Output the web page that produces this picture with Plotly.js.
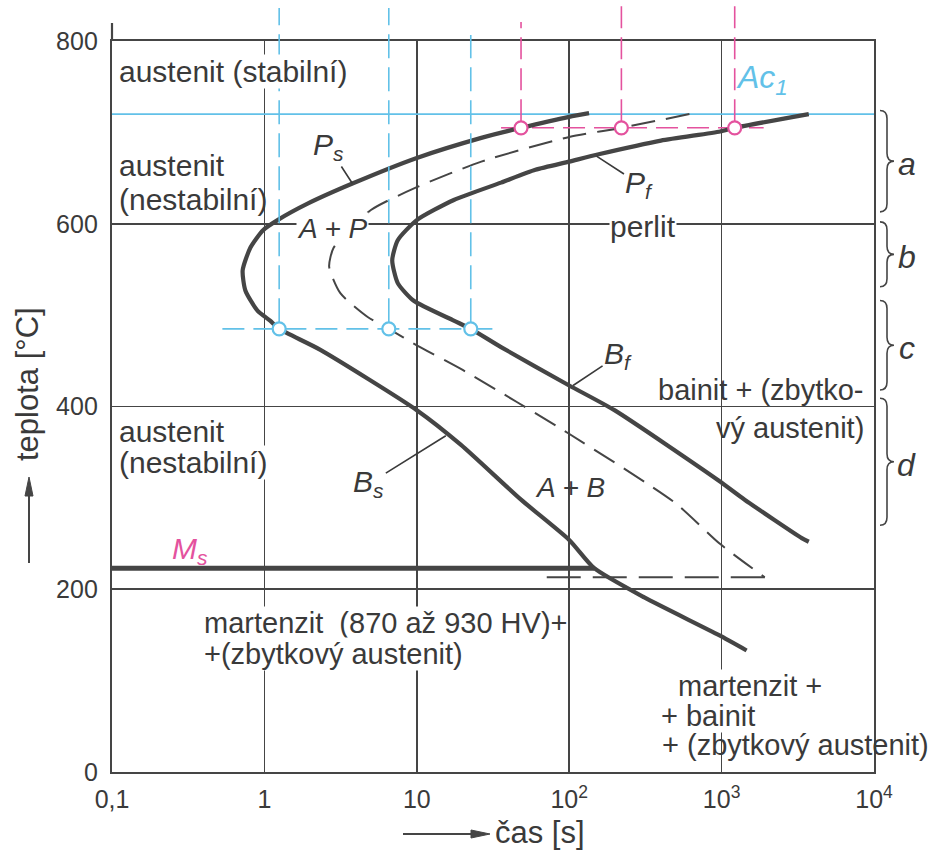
<!DOCTYPE html>
<html>
<head>
<meta charset="utf-8">
<script src="https://cdn.plot.ly/plotly-3.0.1.min.js"></script>
<style>html,body{margin:0;padding:0;background:#fff}</style>
</head>
<body>
<div id="chart" style="width:938px;height:850px"></div>
<script>
// Isothermal transformation (IRA / TTT) diagram: time [s] on a log axis, temperature [°C]

// axis ticks
const tickTimes = [0.1, 1, 10, 100, 1000, 10000];
const tickTimeText = ['0,1', '1', '10', '10<sup>2</sup>', '10<sup>3</sup>', '10<sup>4</sup>'];
const tickTemps = [0, 200, 400, 600, 800];

// Ps (pearlite start) running through the nose into Bs (bainite start)
const startTime = [135, 100, 48.3, 26.5, 10, 3.78, 1.92, 1.22, 0.98, 0.81, 0.72, 0.75, 0.9, 1.09, 1.25, 2.33, 10, 19.5, 48.3, 100, 146, 311, 955, 1459];
const startTemp = [721, 717, 705, 694, 672, 644, 622, 604, 593, 574, 549, 527, 505, 494, 485, 462, 396, 358, 298, 254, 223, 191, 150, 133];

// 50 % transformed (dashed curve), then the horizontal run back along the bottom
const halfTime = [615, 220, 100, 26.5, 10, 5.0, 2.85, 2.66, 3.15, 4.76, 6.55, 10, 20, 98, 491, 970, 1919];
const halfTemp = [720, 705, 695, 668, 640, 615, 574, 553, 524, 498, 485, 467, 440, 371, 295, 250, 213];
const halfBaseTime = [1919, 67.5];
const halfBaseTemp = [213, 213];

// Pf (pearlite finish) running through the nose into Bf (bainite finish)
const finishTime = [3733, 1219, 980, 400, 156, 100, 60, 35.7, 17.5, 10, 7.5, 6.9, 7.5, 9.5, 17.5, 22.6, 35.7, 100, 198, 955, 1416, 3357, 3733];
const finishTemp = [720, 705, 701, 691, 676, 668, 659, 645, 626, 604, 582, 560, 535, 516, 494, 485, 465, 423, 396, 319, 298, 256, 252];

// martensite start
const msTime = [0.1, 146];
const msTemp = [223, 223];

// Ac1 temperature
const ac1Time = [0.1, 10000];
const ac1Temp = [720, 720];

// read-off guides in the pearlite region (magenta) and bainite region (cyan)
const pearliteGuideTemp = 705;
const pearliteGuideTimes = [48.3, 220, 1219];
const pearliteGuideSpan = [35.7, 1888];
const bainiteGuideTemp = 485;
const bainiteGuideTimes = [1.25, 6.55, 22.6];
const bainiteGuideSpan = [0.53, 34.6];

// temperature bands marked by braces on the right
const braceLabels = ['a', 'b', 'c', 'd'];
const braceTop = [724, 602, 516, 409];
const braceBottom = [613, 531, 418, 270];

const INK = '#454545';
const TXT = '#3a3a3a';
const CYAN = '#62c1e8';
const MAGENTA = '#e4529e';
const FONT = 'Liberation Sans, Arial, sans-serif';

// plot box in page pixels, used to place free text
const PL = 112, PR = 874, PT = 41, PB = 772;
const px = x => (x - PL) / (PR - PL);
const py = y => (PB - y) / (PB - PT);

const traces = [
  {x: ac1Time, y: ac1Temp, mode: 'lines', line: {color: CYAN, width: 1.6}, hoverinfo: 'skip'},
  {x: bainiteGuideSpan, y: [bainiteGuideTemp, bainiteGuideTemp], mode: 'lines',
   line: {color: CYAN, width: 1.6, dash: '22px,9px'}, hoverinfo: 'skip'},
  {x: pearliteGuideSpan, y: [pearliteGuideTemp, pearliteGuideTemp], mode: 'lines',
   line: {color: MAGENTA, width: 1.6, dash: '22px,9px'}, hoverinfo: 'skip'},
  {x: msTime, y: msTemp, mode: 'lines', line: {color: INK, width: 5}},
  {x: halfTime, y: halfTemp, mode: 'lines', line: {color: INK, width: 2, dash: '24px,11px', shape: 'spline', smoothing: 0.6}},
  {x: halfBaseTime, y: halfBaseTemp, mode: 'lines', line: {color: INK, width: 2, dash: '34px,12px'}},
  {x: startTime, y: startTemp, mode: 'lines', line: {color: INK, width: 4.2, shape: 'spline', smoothing: 0.6}},
  {x: finishTime, y: finishTemp, mode: 'lines', line: {color: INK, width: 4.2, shape: 'spline', smoothing: 0.6}},
  {x: bainiteGuideTimes, y: bainiteGuideTimes.map(() => bainiteGuideTemp), mode: 'markers',
   marker: {size: 13, color: '#ffffff', line: {color: CYAN, width: 2.2}}},
  {x: pearliteGuideTimes, y: pearliteGuideTimes.map(() => pearliteGuideTemp), mode: 'markers',
   marker: {size: 13, color: '#ffffff', line: {color: MAGENTA, width: 2.2}}}
];

const shapes = [];
// left frame edge runs a little above 800 °C
shapes.push({type: 'line', xref: 'paper', yref: 'paper', x0: 0, x1: 0, y0: 1, y1: py(23),
  line: {color: INK, width: 2.2}});
// vertical guides from the marked points up past the top edge
const cyanTops = [py(8), py(8), py(35)];
bainiteGuideTimes.forEach((t, i) => shapes.push({type: 'line', xref: 'x', yref: 'paper',
  x0: t, x1: t, y0: bainiteGuideTemp / 800 + 0.009, y1: cyanTops[i],
  line: {color: CYAN, width: 1.6, dash: '24px,9px'}}));
const magentaTops = [py(22), py(0), py(0)];
pearliteGuideTimes.forEach((t, i) => shapes.push({type: 'line', xref: 'x', yref: 'paper',
  x0: t, x1: t, y0: pearliteGuideTemp / 800 + 0.009, y1: magentaTops[i],
  line: {color: MAGENTA, width: 1.6, dash: '22px,9px'}}));
// curly braces
braceLabels.forEach((lab, i) => {
  const x0 = px(880), x1 = px(887), x2 = px(894);
  const yt = braceTop[i] / 800, yb = braceBottom[i] / 800, ym = (yt + yb) / 2;
  const d = 8 / (PB - PT);
  shapes.push({type: 'path', xref: 'paper', yref: 'paper',
    path: `M${x0},${yt} Q${x1},${yt} ${x1},${yt - d} L${x1},${ym + d} Q${x1},${ym} ${x2},${ym} ` +
          `Q${x1},${ym} ${x1},${ym - d} L${x1},${yb + d} Q${x1},${yb} ${x0},${yb}`,
    line: {color: INK, width: 1.6}});
});
// arrows in front of the axis titles
shapes.push({type: 'line', xref: 'paper', yref: 'paper', x0: px(29), x1: px(29), y0: py(563), y1: py(490),
  line: {color: INK, width: 2}});
shapes.push({type: 'path', xref: 'paper', yref: 'paper', fillcolor: INK, line: {color: INK, width: 1},
  path: `M${px(29)},${py(477)} L${px(25)},${py(496)} L${px(33)},${py(496)} Z`});
shapes.push({type: 'line', xref: 'paper', yref: 'paper', x0: px(403), x1: px(476), y0: py(834), y1: py(834),
  line: {color: INK, width: 2}});
shapes.push({type: 'path', xref: 'paper', yref: 'paper', fillcolor: INK, line: {color: INK, width: 1},
  path: `M${px(490)},${py(834)} L${px(471)},${py(830)} L${px(471)},${py(838)} Z`});

function label(text, x, y, o = {}) {
  const a = {text, xref: 'paper', yref: 'paper', x: px(x), y: py(y),
    xanchor: o.xa || 'center', yanchor: 'middle', showarrow: false, align: 'left',
    font: {family: FONT, size: o.size || 29, color: o.color || TXT, style: o.italic ? 'italic' : 'normal'}};
  if (o.bg) { a.bgcolor = '#ffffff'; a.borderpad = 0; }
  if (o.angle) a.textangle = o.angle;
  return a;
}
function leader(text, t, T, ax, ay) {
  return {text, xref: 'x', yref: 'y', x: Math.log10(t), y: T, ax, ay, showarrow: true,
    arrowhead: 0, arrowwidth: 1.6, arrowcolor: TXT, standoff: 0,
    font: {family: FONT, size: 30, color: TXT, style: 'italic'}};
}

const annotations = [
  label('austenit (stabilní)', 118, 71, {xa: 'left', bg: true, size: 30}),
  label('austenit', 117, 165, {xa: 'left', size: 30}),
  label('(nestabilní)', 117, 200, {xa: 'left', size: 30}),
  label('austenit', 118, 431, {xa: 'left', bg: true, size: 30}),
  label('(nestabilní)', 118, 462, {xa: 'left', bg: true, size: 30}),
  label('A + P', 332, 228, {italic: true, bg: true, size: 28}),
  label('perlit', 643, 226, {bg: true, size: 30}),
  label('Ac<sub>1</sub>', 762, 80, {italic: true, color: CYAN, size: 32}),
  label('M<sub>s</sub>', 190, 550, {italic: true, color: MAGENTA, size: 30}),
  label('A + B', 570, 488, {italic: true, size: 28}),
  label('bainit + (zbytko-', 866, 390, {xa: 'right'}),
  label('vý austenit)', 866, 428, {xa: 'right'}),
  label('martenzit  (870 až 930 HV)+', 203, 623, {xa: 'left', bg: true}),
  label('+(zbytkový austenit)', 203, 654, {xa: 'left', bg: true}),
  label('martenzit +', 677, 686, {xa: 'left', bg: true}),
  label('+ bainit', 660, 716, {xa: 'left', bg: true}),
  label('+ (zbytkový austenit)', 660, 745, {xa: 'left'}),
  leader('P<sub>s</sub>', 3.78, 644, -24, -37),
  leader('P<sub>f</sub>', 151, 674, 43, 28),
  leader('B<sub>s</sub>', 15.5, 368, -77, 48),
  leader('B<sub>f</sub>', 106, 423, 45, -30),
  // axis titles (their arrows are shapes)
  label('teplota [°C]', 28, 384, {angle: -90, size: 31}),
  label('čas [s]', 493, 832, {xa: 'left', size: 31})
];
braceLabels.forEach((lab, i) => {
  const ymid = PB - ((braceTop[i] + braceBottom[i]) / 2) / 800 * (PB - PT);
  annotations.push(label(lab, 907, ymid + 3, {italic: true, size: 32}));
});

const axisCommon = {
  showgrid: true, gridcolor: INK, gridwidth: 1.6,
  showline: true, mirror: true, linecolor: INK, linewidth: 2.2,
  zeroline: false, ticks: '', fixedrange: true,
  tickfont: {family: FONT, size: 25, color: TXT}
};

const layout = {
  width: 938, height: 850,
  margin: {l: PL, r: 938 - PR, t: PT, b: 850 - PB},
  paper_bgcolor: '#ffffff', plot_bgcolor: '#ffffff',
  showlegend: false,
  xaxis: Object.assign({}, axisCommon, {type: 'log', range: [-1, 4],
    tickmode: 'array', tickvals: tickTimes, ticktext: tickTimeText, ticklabelstandoff: 4}),
  yaxis: Object.assign({}, axisCommon, {range: [0, 800],
    tickmode: 'array', tickvals: tickTemps, ticktext: tickTemps.map(String), ticklabelstandoff: 7}),
  shapes, annotations
};

Plotly.newPlot('chart', traces, layout, {staticPlot: true, displayModeBar: false});
</script>
</body>
</html>
